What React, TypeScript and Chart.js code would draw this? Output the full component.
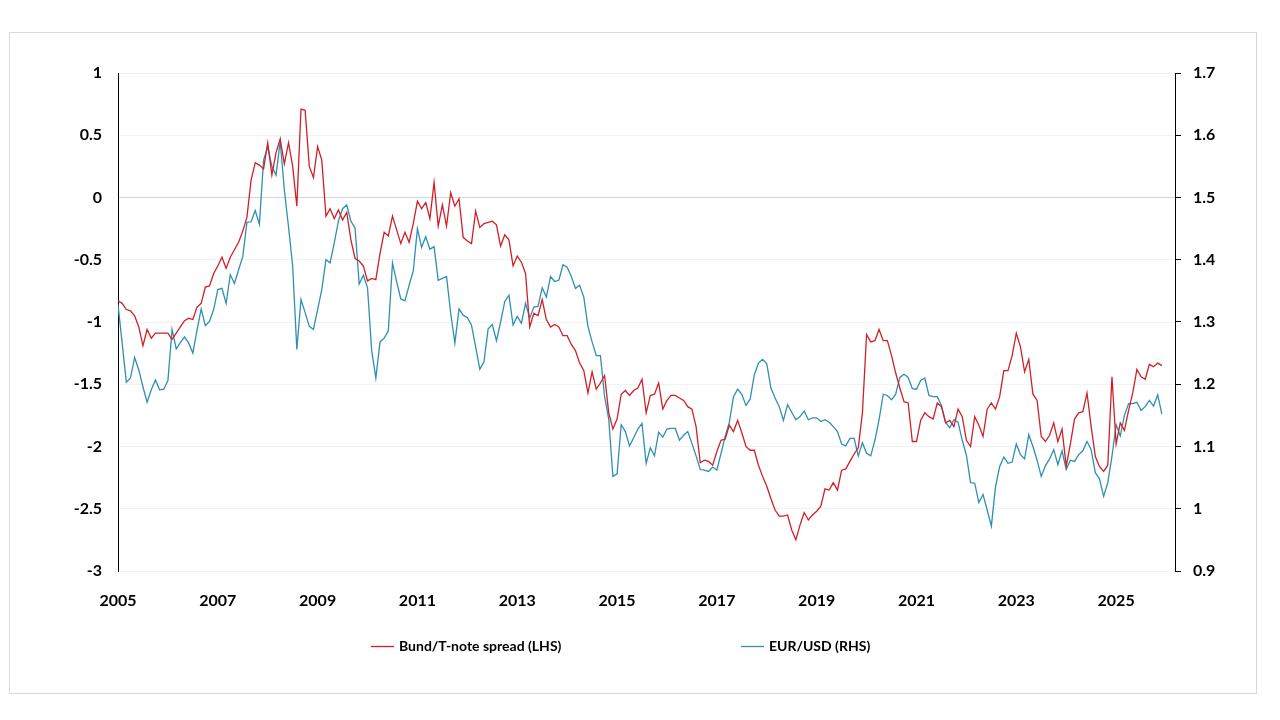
import { useEffect, useRef } from "react";
import { Chart, registerables } from "chart.js";

Chart.register(...registerables);

// Monthly data, January 2005 onward
const START_YEAR = 2005;
const xTickYears = [2005, 2007, 2009, 2011, 2013, 2015, 2017, 2019, 2021, 2023, 2025];
const seriesLabels = ["Bund/T-note spread (LHS)", "EUR/USD (RHS)"];

const spread = [
  -0.83, -0.85, -0.9, -0.91, -0.95, -1.04, -1.19, -1.06, -1.13, -1.09,
  -1.09, -1.09, -1.09, -1.14, -1.09, -1.04, -0.99, -0.97, -0.98, -0.88,
  -0.85, -0.72, -0.71, -0.61, -0.55, -0.48, -0.57, -0.48, -0.42, -0.36,
  -0.27, -0.16, 0.14, 0.28, 0.26, 0.23, 0.44, 0.18, 0.36, 0.47,
  0.27, 0.44, 0.25, -0.07, 0.71, 0.7, 0.25, 0.16, 0.41, 0.3,
  -0.15, -0.09, -0.17, -0.1, -0.18, -0.12, -0.34, -0.49, -0.51, -0.55,
  -0.67, -0.65, -0.66, -0.45, -0.28, -0.31, -0.15, -0.26, -0.37, -0.28,
  -0.36, -0.21, -0.03, -0.09, -0.04, -0.17, 0.12, -0.23, -0.06, -0.23,
  0.04, -0.07, -0.01, -0.32, -0.35, -0.37, -0.11, -0.24, -0.21, -0.2,
  -0.19, -0.22, -0.39, -0.3, -0.34, -0.55, -0.47, -0.52, -0.61, -1.04,
  -0.93, -0.95, -0.82, -0.98, -1.04, -1.02, -1.04, -1.11, -1.11, -1.18,
  -1.23, -1.33, -1.39, -1.57, -1.4, -1.54, -1.49, -1.43, -1.73, -1.86,
  -1.78, -1.58, -1.55, -1.59, -1.55, -1.53, -1.46, -1.73, -1.59, -1.58,
  -1.49, -1.7, -1.63, -1.59, -1.59, -1.61, -1.63, -1.68, -1.7, -1.84,
  -2.13, -2.11, -2.12, -2.15, -2.04, -1.95, -1.94, -1.83, -1.88, -1.79,
  -1.89, -2.0, -2.03, -2.03, -2.15, -2.24, -2.32, -2.42, -2.51, -2.56,
  -2.56, -2.55, -2.67, -2.75, -2.63, -2.53, -2.59, -2.55, -2.52, -2.48,
  -2.34, -2.35, -2.29, -2.35, -2.19, -2.18, -2.12, -2.06, -2.01, -1.73,
  -1.1, -1.16, -1.15, -1.06, -1.15, -1.15, -1.27, -1.41, -1.53, -1.64,
  -1.65, -1.96, -1.96, -1.79, -1.73, -1.76, -1.78, -1.65, -1.68, -1.81,
  -1.79, -1.84, -1.7, -1.76, -1.95, -2.0, -1.76, -1.83, -1.92, -1.7,
  -1.65, -1.7, -1.6, -1.39, -1.39, -1.27, -1.09, -1.2, -1.4, -1.3,
  -1.58, -1.63, -1.92, -1.96, -1.91, -1.81, -1.96, -1.86, -2.16, -1.98,
  -1.78, -1.73, -1.72, -1.57, -1.84, -2.08, -2.16, -2.2, -2.15, -1.44,
  -1.98, -1.81, -1.87, -1.71, -1.57, -1.38, -1.44, -1.46, -1.34, -1.36,
  -1.33, -1.35,
];

const eurusd = [
  1.328, 1.266, 1.203, 1.21, 1.243, 1.223, 1.196, 1.171, 1.191, 1.207,
  1.191, 1.192, 1.206, 1.288, 1.257, 1.267, 1.276, 1.266, 1.25, 1.287,
  1.321, 1.294, 1.301, 1.32, 1.352, 1.354, 1.33, 1.376, 1.362, 1.384,
  1.405, 1.46, 1.461, 1.479, 1.457, 1.56, 1.581, 1.55, 1.536, 1.59,
  1.512, 1.453, 1.39, 1.256, 1.336, 1.315, 1.293, 1.288, 1.32, 1.352,
  1.4, 1.395, 1.427, 1.462, 1.482, 1.488, 1.462, 1.451, 1.361, 1.375,
  1.355, 1.254, 1.21, 1.268, 1.274, 1.286, 1.395, 1.365, 1.337, 1.334,
  1.359, 1.382, 1.45, 1.42, 1.437, 1.417, 1.421, 1.367, 1.37, 1.373,
  1.314, 1.266, 1.321, 1.311, 1.307, 1.295, 1.26, 1.224, 1.236, 1.289,
  1.296, 1.27, 1.3, 1.333, 1.343, 1.295, 1.309, 1.298, 1.33, 1.306,
  1.324, 1.325, 1.355, 1.34, 1.373, 1.365, 1.367, 1.392, 1.388, 1.373,
  1.354, 1.359, 1.34, 1.293, 1.268, 1.246, 1.246, 1.18, 1.144, 1.052,
  1.056, 1.135, 1.124, 1.101, 1.114, 1.128, 1.137, 1.073, 1.098, 1.085,
  1.123, 1.115, 1.128, 1.129, 1.129, 1.11, 1.118, 1.124, 1.105, 1.085,
  1.063, 1.062, 1.06, 1.067, 1.062, 1.089, 1.116, 1.139, 1.18, 1.192,
  1.184, 1.166, 1.176, 1.215, 1.234, 1.24, 1.233, 1.194, 1.178, 1.164,
  1.142, 1.167, 1.155, 1.143, 1.148, 1.157, 1.143, 1.146, 1.146, 1.14,
  1.143, 1.139, 1.132, 1.124, 1.104, 1.101, 1.113, 1.113, 1.085, 1.106,
  1.089, 1.085, 1.11, 1.143, 1.184, 1.182, 1.175, 1.184, 1.211, 1.216,
  1.211, 1.193, 1.192, 1.206, 1.21, 1.182, 1.18, 1.18, 1.166, 1.139,
  1.13, 1.143, 1.139, 1.11, 1.086, 1.042, 1.041, 1.01, 1.023, 0.998,
  0.972, 1.035, 1.068, 1.083, 1.073, 1.075, 1.104, 1.087, 1.08, 1.119,
  1.1, 1.078, 1.052, 1.069, 1.08, 1.095, 1.071, 1.093, 1.063, 1.078,
  1.076, 1.087, 1.093, 1.108, 1.095, 1.058, 1.048, 1.02, 1.042, 1.084,
  1.135, 1.117, 1.15, 1.169, 1.169, 1.171, 1.158, 1.164, 1.174, 1.165,
  1.183, 1.152,
];

const RED = "#cf2027";
const BLUE = "#2f8fb3";
const FONT_FAMILY = "Lato, 'Open Sans', sans-serif";

const fmtNum = (v: any) => String(Number(Number(v).toFixed(2)));

const frameLegendPlugin = {
  id: "frameLegend",
  afterDraw(chart: any) {
    const ctx = chart.ctx as CanvasRenderingContext2D;
    ctx.save();
    // chart area border (outer frame)
    ctx.strokeStyle = "#d9d9d9";
    ctx.lineWidth = 1;
    ctx.strokeRect(9.5, 32.5, 1247, 661);
    // legend
    const legendX = [371, 741];
    const legendY = 646;
    ctx.font = `bold 14px ${FONT_FAMILY}`;
    ctx.textBaseline = "middle";
    ctx.textAlign = "left";
    chart.data.datasets.forEach((ds: any, i: number) => {
      const x = legendX[i];
      ctx.strokeStyle = ds.borderColor;
      ctx.lineWidth = 1.3;
      ctx.beginPath();
      ctx.moveTo(x, legendY + 0.5);
      ctx.lineTo(x + 23, legendY + 0.5);
      ctx.stroke();
      ctx.fillStyle = "#000";
      ctx.fillText(ds.label, x + 28, legendY);
    });
    ctx.restore();
  },
};

export default function App() {
  const ref = useRef<HTMLCanvasElement>(null);

  useEffect(() => {
    if (!ref.current) return;
    const toPoints = (arr: number[]) =>
      arr.map((v, i) => ({ x: START_YEAR + i / 12, y: v }));
    const tickFont = { family: FONT_FAMILY, size: 16, weight: "bold" as const };

    const chart = new Chart(ref.current, {
      type: "line",
      data: {
        datasets: [
          {
            label: seriesLabels[0],
            data: toPoints(spread),
            yAxisID: "yL",
            borderColor: RED,
            borderWidth: 1.3,
            pointRadius: 0,
            tension: 0,
          },
          {
            label: seriesLabels[1],
            data: toPoints(eurusd),
            yAxisID: "yR",
            borderColor: BLUE,
            borderWidth: 1.3,
            pointRadius: 0,
            tension: 0,
          },
        ],
      },
      options: {
        animation: false,
        responsive: false,
        devicePixelRatio: 1,
        layout: { padding: { top: 73, left: 0, right: 0, bottom: 0 } },
        plugins: {
          legend: { display: false },
          tooltip: { enabled: false },
        },
        scales: {
          x: {
            type: "linear",
            min: 2005,
            max: 2026.18,
            afterBuildTicks: (s: any) => {
              s.ticks = xTickYears.map((v) => ({ value: v }));
            },
            afterFit: (s: any) => {
              s.height = 149;
            },
            grid: { display: false },
            border: { display: false },
            ticks: {
              font: tickFont,
              color: "#000",
              padding: 12,
              maxRotation: 0,
              autoSkip: false,
              callback: (v: any) => String(v),
            },
          },
          yL: {
            type: "linear",
            position: "left",
            min: -3,
            max: 1,
            afterFit: (s: any) => {
              s.width = 118;
            },
            ticks: { stepSize: 0.5, font: tickFont, color: "#000", padding: 16, callback: fmtNum },
            grid: {
              drawTicks: false,
              lineWidth: 1,
              color: (c: any) => (c.tick && c.tick.value === 0 ? "#d4d4d4" : "#f2f2f2"),
            },
            border: { display: true, color: "#000", width: 1 },
          },
          yR: {
            type: "linear",
            position: "right",
            min: 0.9,
            max: 1.7,
            afterFit: (s: any) => {
              s.width = 105;
            },
            ticks: { stepSize: 0.1, font: tickFont, color: "#000", padding: 12, callback: fmtNum },
            grid: {
              drawOnChartArea: false,
              drawTicks: true,
              tickLength: 6,
              tickColor: "#000",
            },
            border: { display: true, color: "#000", width: 1 },
          },
        },
      },
      plugins: [frameLegendPlugin],
    });
    return () => chart.destroy();
  }, []);

  return (
    <div
      style={{
        position: "absolute",
        left: 0,
        top: 0,
        width: 1280,
        height: 720,
        background: "#fff",
      }}
    >
      <canvas ref={ref} width={1280} height={720} style={{ display: "block" }} />
    </div>
  );
}
